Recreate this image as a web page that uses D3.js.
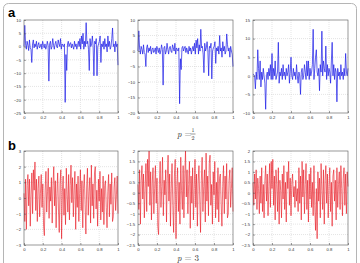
<!DOCTYPE html>
<html>
<head>
<meta charset="utf-8">
<script src="https://cdnjs.cloudflare.com/ajax/libs/d3/7.8.5/d3.min.js"></script>
<style>
  body { margin: 0; background: #fff; }
  svg { display: block; }
</style>
</head>
<body>
<div id="chart"></div>
<script>
// x ticks shared by all panels
let xTicks = [0, 0.2, 0.4, 0.6, 0.8, 1];

// panel a series
let a1 = [0, 8, 1, -1, 2, 0.5, -1.5, 2.5, -0.5, -1, -6,
    1, 2.5, -0.5, 1, 0, 2, -1, 0.5, 1.5, -0.5,
    0, 1, -1, 2, 0.5, -0.5, 1, -1, 0, 2,
    0.5, -13, 1, 2, -1, 0, 3, 0.5, -1, 1,
    2, 0, -0.5, 2.5, 1, 0, 3, -1, 1, 0.5,
    0, 1, -21, -3, -9, 1, 2, 0, 1, 1.5,
    -0.5, 1, 0, -1, 2, 0, 1, -1, 0.5, 2,
    0, 3, -1, 4, 1, 5, -1, 2, 0, 9,
    1, 2, -1, -9, 3, 0, 1, 4, 0, -11,
    2, 1, 3, -11, 0, 1, 2, 4, -6, 1,
    0, 2, -1, 3, 0, 1, -2, 4, 0, 2,
    -1, 0, 3, 7, 0, 1, -2, 2, 0, 1, -7];
let a2 = [0, 6.5, 1, -1, 1.5, 0.5, -1, 2, -0.5, -1, -5,
    1, 2, -0.5, 1, 0, 1.5, -1, 0.5, 1, -0.5,
    0, 1, -1, 1.5, 0.5, -0.5, 1, -1, 0, 2,
    0.5, -11, 1, 1.5, -1, 0, 2.5, 0.5, -1, 1,
    1.5, 0, -0.5, 2, 1, 0, 2.5, -1, 1, 0.5,
    0, 1, -17, -2.5, -6, 1, 1.5, 0, 1, 1.5,
    -0.5, 1, 0, -1, 1.5, 0, 1, -1, 0.5, 1.5,
    0, 2.5, -1, 3.5, 1, 4, -1, 2, 0, 7,
    1, 1.5, -1, -7, 2.5, 0, 1, 3, 0, -8,
    1.5, 1, 2.5, -9, 0, 1, 1.5, 3, -4, 1,
    0, 1.5, -1, 5, 0, 1, -2, 3, 0, 1.5,
    -1, 0, 5.5, 2, 0, 1, -2, 1.5, 0, -1, -5];
let a3 = [0.5, 0.3, 0, -3.5, 1, -1, 7, 2, -1, 4, -3,
    1, -1, 2, 0, -2, -9, 0, 1, -1, 2,
    0, 3, -1, 6, -1, 2, 0, 4, -1, 0,
    1, 9, -2, 1, 0, 2, -1, 3, 0, 1,
    -1, 2, 0, 1, 3, -2, 1, 5, 0, -1,
    2, 0, 1, -1, 3, 0, -2, 1, 0, -5,
    1, 2, -1, 0, 3, 1, -1, 4, 0, 4,
    -1, 2, 0, 1, 3, 12.5, -1, 2, 5, 7,
    1, 0, 2, -4, 3, 1, 12, 0, 4, 2,
    1, 8, -1, 3, 0, 2, 1, -2, 4, 9,
    0, 3, -1, 2, 1, -7, 2, 0, 1, -1,
    3, 0, 1, -1, 2, 0, 6, 1, 0, 2];

// panel b series
let b1 = [0.3, -1.5, 1.2, -2, 0.8, 1.5, -0.5, 1.2, -1.8, 0.2,
    1.6, -1, 1.8, 0.5, 2.3, -0.8, 1.2, -1.5, 0.6, 1.4,
    -1.2, 0.3, 1.5, -0.6, 0.9, -1.8, -2.4, 0.5, 1.7, -0.9,
    0.4, 1.9, -1.3, 0.7, -0.2, 1.3, -1.6, 0.8, 2, -0.5,
    1.1, -1.9, 0.3, 1.6, -0.7, -2.2, 0.9, 1.8, -2.6, 0.4,
    1.4, -1.1, 0.6, -1.7, 1.9, 0.2, -0.9, 1.5, -1.4, 0.8,
    2.1, -0.3, 1.3, -1.2, 0.5, 1.7, -2, 0.9, -0.6, 1.4,
    -1.5, 0.3, 1.8, -0.8, 1.1, -1.9, 0.6, 1.5, -0.4, -2.3,
    0.7, 1.9, -1.1, 0.4, 1.3, -1.6, 2.1, -0.5, 0.9, -1.3,
    1.6, 2, -0.7, 0.5, -1.8, 1.2, -0.2, 1.7, -1.4, 0.6,
    -0.9, 1.4, -1.7, 0.8, 1.1, -0.6, -1.9, 0.4, 1.5, -1.2,
    0.9, -0.4, 1.6, -1.5, -1.2, 0.7, 1.3, -0.8, 0.2, 1.4, -1];
let b2 = [0.4, -0.8, 1.1, -1.5, 0.6, 1.3, -0.3, 0.9, -1.2, 0.2,
    1.4, -0.9, 1.6, 0.3, 2, -0.6, 1, -1.3, 0.5, 1.2,
    -1, 0.2, 1.3, -0.5, 0.7, -1.6, -2, 0.4, 1.5, -0.7,
    0.3, 1.7, -1.1, 0.6, -0.1, 1.1, -1.4, 0.7, 1.8, -0.4,
    0.9, -1.6, 0.2, 1.4, -0.6, -1.9, 0.8, 1.6, -2.2, 0.3,
    1.2, -0.9, 0.5, -1.5, 1.7, 0.1, -0.8, 1.3, -1.2, 0.7,
    2, -0.2, 1.1, -1, 0.4, 1.5, -1.7, 0.8, -0.5, 1.2,
    -1.3, 0.2, 1.6, -0.7, 0.9, -1.6, 0.5, 1.3, -0.3, -1.9,
    0.6, 1.7, -0.9, 0.3, 1.1, -1.4, 1.9, -0.4, 0.8, -1.1,
    1.4, 1.8, -0.6, 0.4, -1.5, 1, -0.1, 1.5, -1.2, 0.5,
    -0.8, 1.2, -1.4, 0.7, 0.9, -0.5, -1.6, 0.3, 1.3, -1,
    0.8, -0.3, 1.4, -1.2, -1, 0.6, 1.1, -0.7, 0.2, 1.2, -0.9];
let b3 = [0.5, -0.6, 0.9, -0.3, 1.1, -0.8, 0.7, 0.2, -1, 0.8,
    -0.5, 1.2, -0.9, 0.4, -1.2, 0.6, 1.3, -0.4, 0.9, -1.1,
    0.3, 1.4, -0.7, 1.5, 0.2, 1.6, -0.6, 0.8, -1.3, 1.1,
    0.4, -0.9, 1.2, -1.5, 0.6, 0.1, -1.2, 0.9, -0.3, 1.3,
    -0.8, 0.5, -1.4, 1, 0.2, 1.5, -0.6, 0.7, -1.1, 0.4,
    0.9, -0.2, 0.3, -0.7, 0.6, -0.4, 0.2, -0.9, 1.2, -0.5,
    0.8, -1.3, 1.5, -0.2, 1.1, -1, 0.4, 1.4, -0.8, 0.6,
    -1.4, 0.9, -0.3, 1.2, -0.7, 0.5, -1.1, 1.3, -0.6, -1.8,
    0.2, -2.2, 1, -0.4, 0.7, -1.2, 1.4, 0.1, -0.8, 1.1,
    -1.5, 0.6, 1.3, -0.5, 0.9, -1.2, 0.3, 1.2, -0.9, 0.5,
    -1.6, 0.8, 1.1, -0.4, 0.6, -1.3, 1.2, -0.7, 0.4, 1,
    -0.8, 1.3, 0.2, -1.1, 0.7, 1.2, -0.6, 0.9, -1, 1, 0.3];

// y tick labels per panel
let yTicksA1 = [10, 5, 0, -5, -10, -15, -20, -25];
let yTicksA2 = [10, 5, 0, -5, -10, -15, -20];
let yTicksA3 = [15, 10, 5, 0, -5, -10];
let yTicksB1 = [3, 2, 1, 0, -1, -2, -3];
let yTicksB2 = [2, 1.5, 1, 0.5, 0, -0.5, -1, -1.5, -2, -2.5];
let yTicksB3 = [2, 1.5, 1, 0.5, 0, -0.5, -1, -1.5, -2, -2.5];

let width = 360;
let height = 263;

const svg = d3.select('#chart')
    .append('svg')
    .attr('width', width)
    .attr('height', height);

// outer rounded frame (bottom runs off the picture)
svg.append('rect')
    .attr('x', 3.5).attr('y', 3.5)
    .attr('width', 353).attr('height', 280)
    .attr('rx', 5)
    .attr('fill', 'none')
    .attr('stroke', '#b5b5b5')
    .attr('stroke-width', 1);

let cols = [[24, 118], [138, 233], [253, 348]];

function drawPanel(values, yTicks, col, top, bottom, color, lw) {
    let x = d3.scaleLinear()
        .domain([0, 1])
        .range(col);
    let y = d3.scaleLinear()
        .domain([d3.min(yTicks), d3.max(yTicks)])
        .range([bottom, top]);

    let g = svg.append('g');

    // dotted grid
    g.append('g')
        .selectAll('line')
        .data(xTicks.slice(1, -1))
        .join('line')
        .attr('x1', d => x(d)).attr('x2', d => x(d))
        .attr('y1', top).attr('y2', bottom)
        .attr('stroke', '#c8c8c8')
        .attr('stroke-width', 0.5)
        .attr('stroke-dasharray', '1,1');
    g.append('g')
        .selectAll('line')
        .data(yTicks.slice(1, -1))
        .join('line')
        .attr('x1', col[0]).attr('x2', col[1])
        .attr('y1', d => y(d)).attr('y2', d => y(d))
        .attr('stroke', '#c8c8c8')
        .attr('stroke-width', 0.5)
        .attr('stroke-dasharray', '1,1');

    // series
    let line = d3.line()
        .x((d, i) => x(i / (values.length - 1)))
        .y(d => y(d));
    g.append('path')
        .datum(values)
        .attr('d', line)
        .attr('fill', 'none')
        .attr('stroke', color)
        .attr('stroke-width', lw)
        .attr('stroke-linejoin', 'round');

    // axes, matlab style: ticks inside
    let xAxis = d3.axisBottom(x)
        .tickValues(xTicks)
        .tickSize(-2)
        .tickPadding(3)
        .tickFormat(d3.format('~g'));
    let yAxis = d3.axisLeft(y)
        .tickValues(yTicks)
        .tickSize(-2)
        .tickPadding(3)
        .tickFormat(d3.format('~g'));

    let gx = g.append('g')
        .attr('transform', `translate(0,${bottom})`)
        .call(xAxis);
    let gy = g.append('g')
        .attr('transform', `translate(${col[0]},0)`)
        .call(yAxis);
    [gx, gy].forEach(a => {
        a.select('.domain').remove();
        a.selectAll('line').attr('stroke', '#444').attr('stroke-width', 0.5);
        a.selectAll('text')
            .attr('font-family', 'Arial, Liberation Sans, sans-serif')
            .attr('font-size', 4.2)
            .attr('fill', '#333');
    });

    // box
    g.append('rect')
        .attr('x', col[0]).attr('y', top)
        .attr('width', col[1] - col[0])
        .attr('height', bottom - top)
        .attr('fill', 'none')
        .attr('stroke', '#555')
        .attr('stroke-width', 0.6);
}

let topA = 20, botA = 113;
let topB = 151, botB = 245;

drawPanel(a1, yTicksA1, cols[0], topA, botA, '#1a1ae6', 0.7);
drawPanel(a2, yTicksA2, cols[1], topA, botA, '#1a1ae6', 0.7);
drawPanel(a3, yTicksA3, cols[2], topA, botA, '#1a1ae6', 0.7);
drawPanel(b1, yTicksB1, cols[0], topB, botB, '#e8141e', 0.6);
drawPanel(b2, yTicksB2, cols[1], topB, botB, '#e8141e', 0.6);
drawPanel(b3, yTicksB3, cols[2], topB, botB, '#e8141e', 0.6);

// panel letters
svg.append('text')
    .attr('x', 8).attr('y', 17)
    .attr('font-family', 'Arial, Liberation Sans, sans-serif')
    .attr('font-weight', 'bold')
    .attr('font-size', 13)
    .text('a');
svg.append('text')
    .attr('x', 8).attr('y', 150)
    .attr('font-family', 'Arial, Liberation Sans, sans-serif')
    .attr('font-weight', 'bold')
    .attr('font-size', 13)
    .text('b');

// parameter captions
let serif = 'Latin Modern Roman, DejaVu Serif, Liberation Serif, serif';
svg.append('text')
    .attr('x', 177).attr('y', 137)
    .attr('font-family', serif)
    .attr('font-size', 9)
    .attr('fill', '#333')
    .html('<tspan font-style="italic">p</tspan> =');
svg.append('text')
    .attr('x', 193).attr('y', 131.5)
    .attr('text-anchor', 'middle')
    .attr('font-family', serif)
    .attr('font-size', 6)
    .attr('fill', '#333')
    .text('1');
svg.append('line')
    .attr('x1', 190.5).attr('x2', 195.5)
    .attr('y1', 134).attr('y2', 134)
    .attr('stroke', '#333').attr('stroke-width', 0.5);
svg.append('text')
    .attr('x', 193).attr('y', 140)
    .attr('text-anchor', 'middle')
    .attr('font-family', serif)
    .attr('font-size', 6)
    .attr('fill', '#333')
    .text('2');
svg.append('text')
    .attr('x', 177).attr('y', 261)
    .attr('font-family', serif)
    .attr('font-size', 9)
    .attr('fill', '#333')
    .html('<tspan font-style="italic">p</tspan> = 3');
</script>
</body>
</html>
